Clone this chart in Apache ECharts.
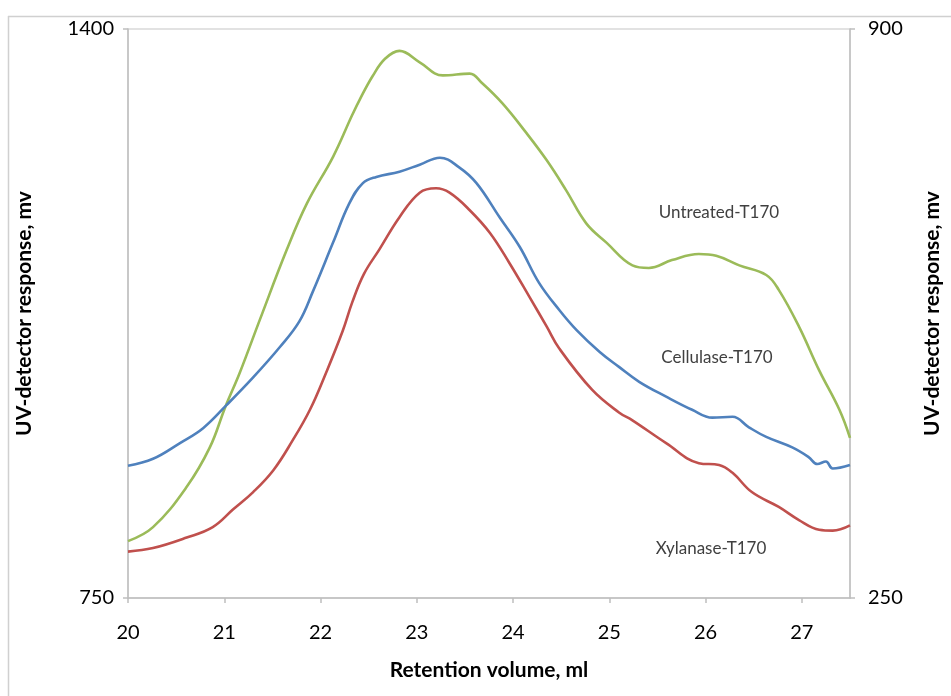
<!DOCTYPE html>
<html><head><meta charset="utf-8">
<script src="https://cdn.jsdelivr.net/npm/echarts@6/dist/echarts.min.js"></script>
<style>html,body{margin:0;padding:0;background:#fff}#c{width:951px;height:696px}</style>
</head><body><div id="c"></div>
<script>
// Retention volume (ml) sample positions and detector responses (mv)
const untreatedVol = [20.0,20.26,20.61,20.85,21.01,21.16,21.37,21.65,21.86,22.13,22.33,22.41,22.54,22.67,22.82,23.03,23.27,23.55,23.68,23.89,24.14,24.35,24.55,24.76,24.97,25.24,25.41,25.65,25.93,26.11,26.35,26.63,26.76,26.97,27.18,27.39,27.5];
const untreatedVal = [815,831,877,922,968,1007,1068,1148,1201,1254,1302,1320,1346,1366,1375,1362,1347,1349,1338,1315,1281,1250,1216,1178,1156,1130,1127,1136,1143,1141,1130,1119,1102,1060,1010,965,933];

const cellulaseVol = [20.0,20.26,20.54,20.78,21.02,21.30,21.58,21.78,21.92,22.13,22.30,22.44,22.58,22.82,23.03,23.24,23.44,23.62,23.86,24.07,24.27,24.48,24.66,24.90,25.10,25.31,25.59,25.86,26.07,26.28,26.45,26.63,26.90,27.07,27.16,27.25,27.32,27.5];
const cellulaseVal = [901,909,927,944,970,1002,1037,1066,1100,1156,1201,1224,1231,1237,1245,1253,1242,1224,1185,1151,1110,1079,1056,1031,1014,997,980,965,956,957,945,934,922,911,903,906,898,902];

const xylanaseVol = [20.0,20.26,20.61,20.88,21.09,21.30,21.51,21.71,21.89,22.06,22.23,22.33,22.45,22.61,22.82,23.03,23.20,23.34,23.55,23.76,23.96,24.17,24.35,24.48,24.82,25.10,25.24,25.59,25.93,26.14,26.28,26.48,26.76,26.97,27.18,27.32,27.5];
const xylanaseVal = [803,807,819,831,851,871,896,930,965,1008,1055,1088,1120,1148,1185,1213,1218,1213,1193,1167,1133,1094,1060,1035,988,962,953,927,904,902,893,871,854,839,828,827,833];

const leftTicks = [750, 1400];
const rightTicks = [250, 900];
const seriesNames = ['Untreated-T170', 'Cellulase-T170', 'Xylanase-T170'];

function pairs(xs, ys) { return xs.map((x, i) => [x, ys[i]]); }

const font = 'Lato, "Open Sans", sans-serif';
const axisGray = '#bfbfbf';
const plain = v => String(v);
const chart = echarts.init(document.getElementById('c'));
chart.setOption({
  animation: false,
  backgroundColor: '#fff',
  grid: { left: 128, right: 100, top: 29, bottom: 98, show: true, borderColor: '#d9d9d9', borderWidth: 1.5, backgroundColor: 'transparent' },
  xAxis: {
    type: 'value', min: 20, max: 27.5, interval: 1,
    name: 'Retention volume, ml', nameLocation: 'middle', nameGap: 62,
    nameTextStyle: { fontFamily: font, fontWeight: 'bold', fontSize: 21, color: '#000' },
    axisLine: { lineStyle: { color: axisGray, width: 1.5 } },
    axisTick: { show: true, length: 5, lineStyle: { color: axisGray, width: 1.5 } },
    axisLabel: { fontFamily: font, fontSize: 20, color: '#000', margin: 25, showMaxLabel: false, formatter: plain },
    splitLine: { show: false }
  },
  yAxis: [{
    type: 'value', min: 750, max: 1400, position: 'left',
    name: 'UV-detector response, mv', nameLocation: 'middle', nameGap: 93, nameRotate: 90,
    nameTextStyle: { fontFamily: font, fontWeight: 'bold', fontSize: 21, color: '#000' },
    axisLine: { show: true, lineStyle: { color: axisGray, width: 1.5 } },
    axisTick: { show: true, length: 5, customValues: leftTicks, lineStyle: { color: axisGray, width: 1.5 } },
    axisLabel: { fontFamily: font, fontSize: 20, color: '#000', margin: 14, customValues: leftTicks, formatter: plain },
    splitLine: { show: false }
  }, {
    type: 'value', min: 250, max: 900, position: 'right',
    name: 'UV-detector response, mv', nameLocation: 'middle', nameGap: 72, nameRotate: 90,
    nameTextStyle: { fontFamily: font, fontWeight: 'bold', fontSize: 21, color: '#000' },
    axisLine: { show: true, lineStyle: { color: axisGray, width: 1.5 } },
    axisTick: { show: true, length: 5, customValues: rightTicks, lineStyle: { color: axisGray, width: 1.5 } },
    axisLabel: { fontFamily: font, fontSize: 20, color: '#000', margin: 18, customValues: rightTicks, formatter: plain },
    splitLine: { show: false }
  }],
  series: [
    { name: seriesNames[0], type: 'line', yAxisIndex: 0, data: pairs(untreatedVol, untreatedVal), smooth: 0.4, showSymbol: false, lineStyle: { color: '#9BBB59', width: 2.6 }, z: 3 },
    { name: seriesNames[1], type: 'line', yAxisIndex: 0, data: pairs(cellulaseVol, cellulaseVal), smooth: 0.4, showSymbol: false, lineStyle: { color: '#4F81BD', width: 2.6 }, z: 4 },
    { name: seriesNames[2], type: 'line', yAxisIndex: 0, data: pairs(xylanaseVol, xylanaseVal), smooth: 0.4, showSymbol: false, lineStyle: { color: '#C0504D', width: 2.6 }, z: 5 }
  ],
  graphic: [
    { type: 'line', shape: { x1: 8.5, y1: 16, x2: 8.5, y2: 696 }, style: { stroke: '#d0d0d0', lineWidth: 1.5 } },
    { type: 'line', shape: { x1: 8, y1: 16.5, x2: 951, y2: 16.5 }, style: { stroke: '#d0d0d0', lineWidth: 1.5 } },
    { type: 'text', x: 719, y: 213, style: { text: seriesNames[0], font: '17px ' + font, fill: '#404040', align: 'center', verticalAlign: 'middle' } },
    { type: 'text', x: 717, y: 358, style: { text: seriesNames[1], font: '17px ' + font, fill: '#404040', align: 'center', verticalAlign: 'middle' } },
    { type: 'text', x: 711, y: 549, style: { text: seriesNames[2], font: '17px ' + font, fill: '#404040', align: 'center', verticalAlign: 'middle' } }
  ]
});
</script>
</body></html>
